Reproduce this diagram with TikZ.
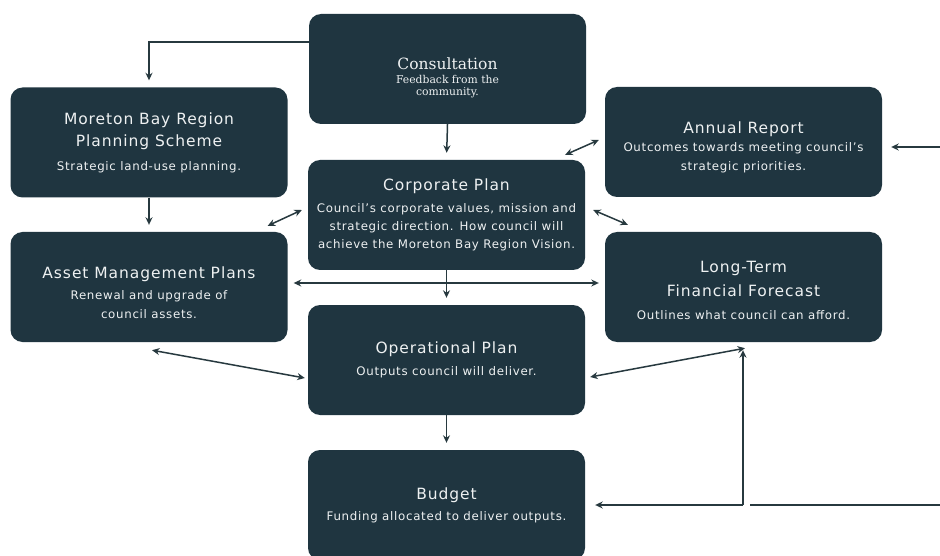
\documentclass[tikz,border=0pt]{standalone}
\usepackage{fontspec}
\setmainfont{DejaVu Sans}[LetterSpace=6]
\newfontfamily\serifhead{DejaVu Serif}
\usetikzlibrary{arrows.meta}
\definecolor{boxcol}{HTML}{1F3540}
\definecolor{linecol}{HTML}{27393F}
\definecolor{txtcol}{HTML}{EEF1F2}
\newcommand{\ptitle}[1]{{\fontsize{15.5}{18}\selectfont #1}}
\tikzset{
  plan/.style={fill=boxcol,rounded corners=12pt,minimum width=277pt,minimum height=110pt,
    inner sep=0pt,text=txtcol,align=center,font=\fontsize{11.8}{19}\selectfont},
  arr/.style={draw=linecol,line width=1.5pt,-{Stealth[length=7.5pt,width=7pt]}},
  dbl/.style={draw=linecol,line width=1.5pt,{Stealth[length=7.5pt,width=7pt]}-{Stealth[length=7.5pt,width=7pt]}},
  plain/.style={draw=linecol,line width=1.5pt}
}
\begin{document}
\begin{tikzpicture}[x=1pt,y=-1pt]
\clip (0,0) rectangle (940,556);
\fill[white] (0,0) rectangle (940,556);
\node[plan,font=\serifhead\fontsize{10.8}{12}\selectfont] (consult) at (447.5,69)
  {{\fontsize{15.5}{18}\selectfont\rule{0pt}{29pt}Consultation}\\[2pt]Feedback from the\\community.};
\node[plan] (scheme) at (149,142.5) {\ptitle{Moreton Bay Region}\\[3pt]\ptitle{Planning Scheme}\\[5pt]Strategic land-use planning.};
\node[plan] (corp) at (446.5,215) {\ptitle{Corporate Plan}\\[3pt]Council's corporate values, mission and\\[-1pt]
  strategic direction. How council will\\[-1pt]achieve the Moreton Bay Region Vision.};
\node[plan] (annual) at (743.5,142) {\ptitle{\rule{0pt}{23pt}Annual Report}\\[-1pt]Outcomes towards meeting council's\\strategic priorities.};
\node[plan] (asset) at (149,287) {\ptitle{\rule{0pt}{23pt}Asset Management Plans}\\[2pt]Renewal and upgrade of\\council assets.};
\node[plan] (ltff) at (743.5,287) {\ptitle{\rule{0pt}{19pt}Long-Term}\\[5pt]\ptitle{Financial Forecast}\\[4pt]Outlines what council can afford.};
\node[plan] (ops) at (446.5,360) {\ptitle{Operational Plan}\\[3pt]Outputs council will deliver.};
\node[plan] (budget) at (446.5,505) {\ptitle{Budget}\\[2pt]Funding allocated to deliver outputs.};
% straight flows
\draw[arr] ([yshift=27pt]consult.west) -| ([yshift=7pt]scheme.north);
\draw[arr,shorten >=7pt] (consult.south) -- (corp.north);
\draw[arr,shorten >=7pt] (scheme.south) -- (asset.north);
\draw[arr,shorten >=7pt] (corp.south) -- (ops.north);
\draw[arr,shorten >=7pt] (ops.south) -- (budget.north);
% two-way links
\draw[dbl] ([xshift=-6pt,yshift=5pt]corp.west) -- ([xshift=-20pt,yshift=6pt]asset.north east);
\draw[dbl] ([xshift=-20pt,yshift=5pt]corp.north east) -- ([xshift=-6pt,yshift=2pt]annual.west);
\draw[dbl] ([xshift=8pt,yshift=5pt]corp.east) -- ([xshift=23pt,yshift=7pt]ltff.north west);
\draw[dbl] ([xshift=6pt,yshift=4pt]asset.east) -- ([xshift=-6pt,yshift=4pt]ltff.west);
\draw[dbl] ([xshift=3pt,yshift=-8pt]asset.south) -- ([xshift=-3pt,yshift=-18pt]ops.west);
\draw[dbl] ([xshift=5pt,yshift=-17pt]ops.east) -- ([xshift=1.5pt,yshift=-6pt]ltff.south);
% budget feedback
\coordinate (fb) at (743,505);
\draw[arr,shorten >=8pt] (fb) -- (fb |- ltff.south);
\draw[arr,shorten >=10pt] (fb) -- (budget.east);
\coordinate (rin) at (940,505);
\draw[plain] (rin) -- ++(-190,0);
\coordinate (ain) at (940,147);
\draw[arr,shorten >=9pt] (ain) -- (annual.east |- ain);
\end{tikzpicture}
\end{document}
